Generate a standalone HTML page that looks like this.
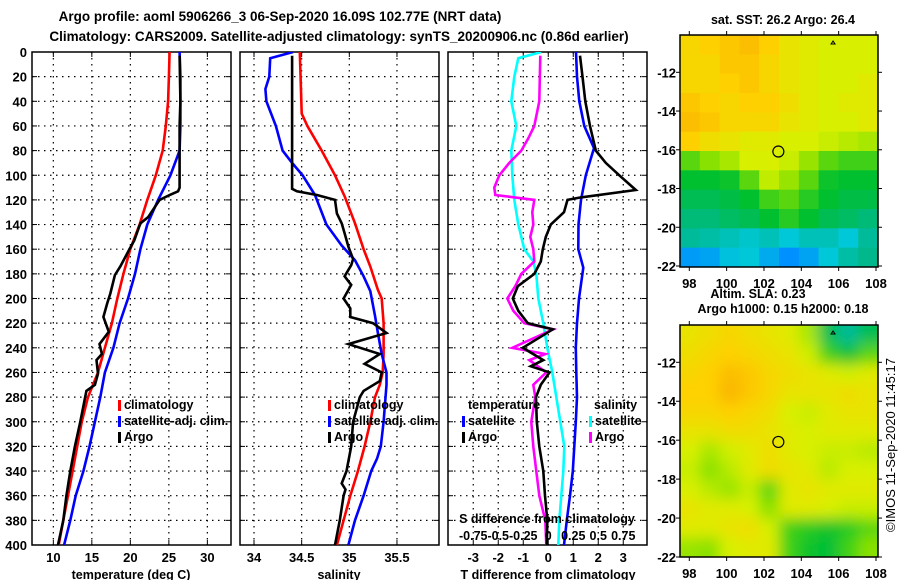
<!DOCTYPE html>
<html><head><meta charset="utf-8"><style>
html,body{margin:0;padding:0;background:#fff;}
svg{display:block;font-family:"Liberation Sans",Arial,sans-serif;font-weight:bold;}
</style></head><body>
<svg id="c" width="900" height="580" viewBox="0 0 900 580" xmlns="http://www.w3.org/2000/svg">
<defs>
<clipPath id="clipTop"><rect x="680" y="35" width="198" height="232"/></clipPath>
<clipPath id="clipBot"><rect x="680" y="325" width="198" height="232"/></clipPath>
<clipPath id="clipP1"><rect x="32" y="52" width="199" height="493"/></clipPath>
<clipPath id="clipP2"><rect x="240" y="52" width="199" height="493"/></clipPath>
<clipPath id="clipP3"><rect x="448" y="52" width="199" height="493"/></clipPath>
<filter id="blur" x="-10%" y="-10%" width="120%" height="120%"><feGaussianBlur stdDeviation="7"/></filter>
</defs>
<text x="280" y="21" text-anchor="middle" font-size="13.5">Argo profile: aoml 5906266_3 06-Sep-2020 16.09S 102.77E (NRT data)</text>
<text x="339" y="41" text-anchor="middle" font-size="13.5">Climatology: CARS2009. Satellite-adjusted climatology: synTS_20200906.nc (0.86d earlier)</text>
<g id="layer"></g>
</svg>
<script>
// ---------- Depth axis ----------
const depthTicks = [0,20,40,60,80,100,120,140,160,180,200,220,240,260,280,300,320,340,360,380,400];

// ---------- Panel 1: temperature ----------
const tempTicks = [10,15,20,25,30];
const tClimDepth = [0,20,40,60,80,100,120,140,160,180,200,220,240,260,280,300,320,340,360,380,400];
const tClim = [25.1,25.0,24.9,24.6,24.2,23.3,22.2,21.2,20.0,19.1,18.3,17.6,16.7,15.8,14.5,13.7,13.1,12.5,11.9,11.3,10.7];
const tSatDepth = [0,20,40,60,80,100,120,140,160,180,200,220,240,260,280,300,320,340,360,380,400];
const tSatClim = [26.4,26.5,26.5,26.5,26.4,25.2,23.6,22.2,21.3,20.6,19.7,18.6,17.8,16.7,16.1,15.4,14.7,13.9,12.9,12.2,11.4];
const tArgoDepth = [3,40,60,110,113,116,120,134,139,153,161,174,181,196,204,215,227,237,245,250,261,270,275,300,320,340,360,380,400];
const tArgo = [26.4,26.5,26.4,26.4,26.2,25.1,23.8,22.3,21.3,20.5,19.8,18.7,18.0,17.4,17.0,16.5,17.2,16.0,16.3,15.6,15.8,15.4,14.3,13.5,12.8,12.2,11.7,11.3,10.6];

// ---------- Panel 2: salinity ----------
const salTicks = [34,34.5,35,35.5];
const salTickLabels = ["34","34.5","35","35.5"];
const sClimDepth = [0,50,60,80,100,117,139,160,174,193,200,220,245,260,270,280,300,320,340,360,380,400];
const sClim = [34.48,34.50,34.56,34.71,34.85,34.95,35.06,35.15,35.22,35.30,35.34,35.36,35.36,35.35,35.32,35.27,35.22,35.16,35.09,35.01,34.94,34.87];
const sSatDepth = [0,5,20,30,40,60,80,90,100,116,140,157,169,182,194,214,228,245,260,270,300,320,330,340,360,380,400];
const sSatClim = [34.41,34.17,34.16,34.12,34.13,34.23,34.30,34.40,34.51,34.64,34.76,34.92,35.06,35.15,35.22,35.27,35.30,35.34,35.39,35.39,35.36,35.33,35.29,35.23,35.15,35.06,34.99];
const sArgoDepth = [3,111,113,116,120,131,139,147,158,168,173,182,189,200,208,215,220,228,237,245,253,260,267,275,280,300,320,340,350,355,360,380,400];
const sArgo = [34.40,34.40,34.45,34.66,34.85,34.87,34.92,34.95,34.99,35.04,35.02,34.95,35.02,34.94,35.01,35.01,35.25,35.39,34.99,35.32,35.16,35.34,35.32,35.15,35.11,35.04,35.02,34.97,34.92,34.96,34.94,34.90,34.85];

// ---------- Panel 3: differences ----------
const dTTicks = [-3,-2,-1,0,1,2,3];
const dSTicks = [-0.75,-0.5,-0.25,0,0.25,0.5,0.75];
const dSTickLabels = ["-0.75","-0.5","-0.25","0","0.25","0.5","0.75"];
const dTSatDepth = [0,20,40,60,78,100,120,140,160,175,200,220,240,260,280,300,320,340,360,380,400];
const dTSat = [1.11,1.15,1.24,1.44,1.83,1.5,1.31,1.21,1.2,1.4,1.23,1.15,1.1,1.12,1.15,1.1,1.04,0.98,0.87,0.74,0.63];
const dTArgoDepth = [3,20,40,60,80,90,100,112,118,120,130,140,150,160,170,180,190,200,210,220,225,240,250,255,260,270,280,300,320,340,360,380,400];
const dTArgo = [1.27,1.37,1.48,1.67,1.9,2.3,2.84,3.5,1.3,0.77,0.63,0.1,-0.1,-0.22,-0.3,-0.56,-1.22,-1.42,-1.2,-0.82,0.18,-1.02,-0.2,-0.7,0.05,-0.3,-0.49,-0.46,-0.36,-0.2,-0.13,-0.04,-0.06];
const dSSatDepth = [0,5,20,40,60,80,100,120,140,160,170,180,200,220,240,260,280,300,320,340,360,380,400];
const dSSat = [-0.07,-0.30,-0.34,-0.37,-0.32,-0.37,-0.36,-0.34,-0.30,-0.24,-0.15,-0.12,-0.10,-0.05,-0.01,0.04,0.08,0.12,0.16,0.15,0.13,0.11,0.10];
const dSArgoDepth = [3,40,60,70,80,90,100,110,116,120,130,140,150,160,170,180,190,200,210,220,225,240,245,250,260,270,280,300,320,340,360,380,400];
const dSArgo = [-0.08,-0.09,-0.14,-0.20,-0.27,-0.39,-0.49,-0.54,-0.53,-0.14,-0.16,-0.15,-0.18,-0.15,-0.14,-0.27,-0.33,-0.41,-0.35,-0.24,0.05,-0.36,-0.03,-0.19,-0.02,-0.15,-0.13,-0.17,-0.15,-0.12,-0.09,-0.03,-0.02];

// ---------- Maps ----------
const lonTicks = [98,100,102,104,106,108];
const latTicks = [-12,-14,-16,-18,-20,-22];
const argoLon = 102.77, argoLat = -16.09;
const sstGrid = [
[0.84,0.86,0.88,0.90,0.86,0.80,0.78,0.76,0.76,0.76],
[0.84,0.84,0.88,0.88,0.84,0.80,0.78,0.76,0.76,0.76],
[0.84,0.84,0.86,0.88,0.84,0.80,0.78,0.76,0.76,0.78],
[0.88,0.86,0.84,0.86,0.86,0.82,0.78,0.76,0.78,0.78],
[0.90,0.88,0.84,0.84,0.84,0.80,0.78,0.76,0.76,0.78],
[0.86,0.82,0.80,0.78,0.78,0.76,0.76,0.74,0.72,0.70],
[0.62,0.66,0.70,0.76,0.76,0.74,0.68,0.62,0.60,0.60],
[0.55,0.55,0.56,0.62,0.73,0.68,0.62,0.56,0.55,0.55],
[0.50,0.50,0.52,0.55,0.60,0.62,0.58,0.55,0.52,0.52],
[0.45,0.45,0.48,0.50,0.55,0.58,0.55,0.50,0.48,0.45],
[0.40,0.38,0.35,0.32,0.35,0.30,0.35,0.35,0.30,0.40],
[0.18,0.20,0.28,0.30,0.22,0.15,0.20,0.30,0.38,0.42]];
const slaGrid = [
[0.80,0.82,0.84,0.82,0.80,0.78,0.70,0.50,0.40,0.50],
[0.82,0.84,0.86,0.84,0.82,0.80,0.75,0.60,0.55,0.62],
[0.84,0.86,0.90,0.88,0.84,0.82,0.80,0.78,0.75,0.78],
[0.86,0.86,0.92,0.88,0.84,0.80,0.80,0.80,0.82,0.80],
[0.84,0.84,0.86,0.84,0.82,0.76,0.74,0.78,0.80,0.80],
[0.80,0.80,0.82,0.82,0.80,0.78,0.76,0.78,0.78,0.78],
[0.76,0.70,0.75,0.78,0.82,0.78,0.76,0.74,0.74,0.72],
[0.74,0.66,0.72,0.78,0.82,0.80,0.78,0.72,0.76,0.76],
[0.76,0.72,0.68,0.74,0.62,0.78,0.80,0.78,0.78,0.78],
[0.80,0.78,0.78,0.76,0.66,0.78,0.78,0.76,0.74,0.74],
[0.78,0.78,0.80,0.82,0.76,0.60,0.58,0.56,0.58,0.62],
[0.68,0.66,0.76,0.78,0.78,0.60,0.56,0.54,0.60,0.66]];

const NS = "http://www.w3.org/2000/svg";
const layer = document.getElementById('layer');
function mk(tag, attrs, parent){const e=document.createElementNS(NS,tag);for(const k in attrs)e.setAttribute(k,attrs[k]);(parent||layer).appendChild(e);return e;}
function txt(x,y,s,anchor,size,parent){const t=mk('text',{x:x,y:y,'text-anchor':anchor||'middle','font-size':size||13},parent);t.textContent=s;return t;}

const Y0=52, Y1=545;
function yD(d){return Y0+(d/400)*(Y1-Y0);}

function panel(name,x0,x1,dmin,dmax,gridVals,clip){
  const g=mk('g',{});
  
  
  const xs=v=>x0+(v-dmin)/(dmax-dmin)*(x1-x0);
  depthTicks.forEach(d=>{ if(d>0&&d<400){
    const l=mk('line',{x1:x0,x2:x1,y1:yD(d),y2:yD(d),stroke:'#000','stroke-width':1.2,'stroke-dasharray':'1.5,4.5'},g);
     
    mk('line',{x1:x0,x2:x0+5,y1:yD(d),y2:yD(d),stroke:'#000','stroke-width':1},g);
    mk('line',{x1:x1-5,x2:x1,y1:yD(d),y2:yD(d),stroke:'#000','stroke-width':1},g);
  }});
  gridVals.forEach(v=>{
    const l=mk('line',{x1:xs(v),x2:xs(v),y1:Y0,y2:Y1,stroke:'#000','stroke-width':1.2,'stroke-dasharray':'1.5,4.5'},g);
     
    mk('line',{x1:xs(v),x2:xs(v),y1:Y0,y2:Y0+5,stroke:'#000','stroke-width':1},g);
    mk('line',{x1:xs(v),x2:xs(v),y1:Y1-5,y2:Y1,stroke:'#000','stroke-width':1},g);
  });
  const f=mk('rect',{x:x0,y:Y0,width:x1-x0,height:Y1-Y0,fill:'none',stroke:'#000','stroke-width':1.5},g);
   
  const sg=mk('g',{'clip-path':'url(#'+clip+')'},g);
  return {g:g,xs:xs,sg:sg};
}
function series(p,depths,vals,color,name,scale){
  const pts=depths.map((d,i)=>p.xs(vals[i]*(scale||1)).toFixed(1)+','+yD(d).toFixed(1)).join(' ');
  const l=mk('polyline',{points:pts,fill:'none',stroke:color,'stroke-width':2.6,'stroke-linejoin':'miter'},p.sg);
  
  
}
function legendEntry(x,y,color,label,parent){
  const r=mk('rect',{x:x,y:y-9,width:3,height:11,fill:color},parent);
   
  const t=txt(x+6,y,label,'start',12.5,parent);
   
}

// depth axis labels
depthTicks.forEach(d=>{const t=txt(27,yD(d)+5,String(d),'end',13);
   });

// Panel 1
const p1=panel('temperature-panel',32,231,7.23,33.07,tempTicks,'clipP1');
series(p1,tClimDepth,tClim,'#ff0000','temp-climatology-line');
series(p1,tSatDepth,tSatClim,'#0000ff','temp-satellite-line');
series(p1,tArgoDepth,tArgo,'#000000','temp-argo-line');
tempTicks.forEach(v=>{const t=txt(p1.xs(v),562,String(v),'middle',13);});
{const t=txt(131,579,'temperature (deg C)','middle',12.5);}
const lg1=mk('g',{});  
legendEntry(118,409,'#ff0000','climatology',lg1);
legendEntry(118,425,'#0000ff','satellite-adj. clim.',lg1);
legendEntry(118,441,'#000000','Argo',lg1);

// Panel 2
const p2=panel('salinity-panel',240,439,33.853,35.941,salTicks,'clipP2');
series(p2,sClimDepth,sClim,'#ff0000','sal-climatology-line');
series(p2,sSatDepth,sSatClim,'#0000ff','sal-satellite-line');
series(p2,sArgoDepth,sArgo,'#000000','sal-argo-line');
salTicks.forEach((v,i)=>{const t=txt(p2.xs(v),562,salTickLabels[i],'middle',13);});
{const t=txt(339,579,'salinity','middle',12.5);}
const lg2=mk('g',{});  
legendEntry(328,409,'#ff0000','climatology',lg2);
legendEntry(328,425,'#0000ff','satellite-adj. clim.',lg2);
legendEntry(328,441,'#000000','Argo',lg2);

// Panel 3 (T axis -4..4, S axis -1..1 -> scale 4)
const p3=panel('difference-panel',448,647,-4.01,3.95,dTTicks,'clipP3');
series(p3,dSSatDepth,dSSat,'#00ffff','sal-diff-satellite-line',4);
series(p3,dSArgoDepth,dSArgo,'#ff00ff','sal-diff-argo-line',4);
series(p3,dTSatDepth,dTSat,'#0000ff','temp-diff-satellite-line');
series(p3,dTArgoDepth,dTArgo,'#000000','temp-diff-argo-line');
dTTicks.forEach(v=>{const t=txt(p3.xs(v),562,String(v),'middle',13);});
{const t=txt(548,579,'T difference from climatology','middle',12.5);}
{const t=txt(547,523,'S difference from climatology','middle',12.5);}
dSTicks.forEach((v,i)=>{const t=txt(p3.xs(v*4),540,dSTickLabels[i],'middle',12.5);});
const lg3=mk('g',{});  
{const t=txt(468,409,'temperature','start',12.5,lg3);}
{const t=txt(594,409,'salinity','start',12.5,lg3);}
legendEntry(462,425,'#0000ff','satellite',lg3);
legendEntry(462,441,'#000000','Argo',lg3);
legendEntry(589,425,'#00ffff','satellite',lg3);
legendEntry(589,441,'#ff00ff','Argo',lg3);

// ---------- Maps ----------
const stops=[[0,[0,64,255]],[0.15,[0,144,255]],[0.3,[0,200,216]],[0.42,[0,184,140]],[0.55,[0,192,48]],[0.65,[128,224,0]],[0.76,[216,240,0]],[0.86,[255,208,0]],[1,[240,144,0]]];
function cmap(v){for(let i=1;i<stops.length;i++){if(v<=stops[i][0]){const a=stops[i-1],b=stops[i],t=(v-a[0])/(b[0]-a[0]);const c=a[1].map((x,k)=>Math.round(x+(b[1][k]-x)*t));return 'rgb('+c.join(',')+')';}}return 'rgb(240,144,0)';}
function map(name,top,grid,clip,blur){
  const g=mk('g',{});  
  const x0=680,x1=878,y0=top,y1=top+232;
  const lx=lon=>689.3+(lon-98)*18.67;
  const ly=lat=>(top+37.3)+(-12-lat)*(top===35?19.37:19.47);
  const cg=mk('g',{'clip-path':'url(#'+clip+')'},g);
  const hg=mk('g',blur?{filter:'url(#blur)'}:{},cg);
  const rows=grid.length, cols=grid[0].length;
  const cw=(x1-x0)/cols, ch=(y1-y0)/rows;
  const pad=blur?14:0;
  grid.forEach((row,r)=>row.forEach((v,c)=>{
    const ex=c===0?-pad:0, ew=(c===0||c===cols-1)?pad:0, ey=r===0?-pad:0, eh=(r===0||r===rows-1)?pad:0;
    const cell=mk('rect',{x:x0+c*cw+ex,y:y0+r*ch+ey,width:cw+ew+0.6,height:ch+eh+0.6,fill:cmap(v)},hg);
    
    
  }));
  const fr=mk('rect',{x:x0,y:y0,width:x1-x0,height:y1-y0,fill:'none',stroke:'#000','stroke-width':1.5},g);
   
  const m=mk('circle',{cx:lx(argoLon),cy:ly(argoLat),r:5.5,fill:'none',stroke:'#000','stroke-width':1.2},g);
   
  mk('path',{d:'M'+(lx(105.7)-2)+','+(y0+9)+' l2,-3 l2,3 z',fill:'none',stroke:'#000','stroke-width':1},g);
  lonTicks.forEach(lon=>{
    mk('line',{x1:lx(lon),x2:lx(lon),y1:y0-4,y2:y0,stroke:'#000'},g);
    mk('line',{x1:lx(lon),x2:lx(lon),y1:y1,y2:y1+4,stroke:'#000'},g);
    const t=txt(lx(lon),y1+21,String(lon),'middle',13,g);
     
  });
  latTicks.forEach(lat=>{
    mk('line',{x1:x0-4,x2:x0,y1:ly(lat),y2:ly(lat),stroke:'#000'},g);
    mk('line',{x1:x1,x2:x1+4,y1:ly(lat),y2:ly(lat),stroke:'#000'},g);
    const t=txt(676,ly(lat)+5,String(lat),'end',13,g);
     
  });
  return g;
}
map('sst-map',35,sstGrid,'clipTop',false);
map('sla-map',325,slaGrid,'clipBot',true);
{const t=txt(783,24,'sat. SST: 26.2 Argo: 26.4','middle',12.5);}
{const t=txt(758,298,'Altim. SLA: 0.23','middle',12.5);}
{const t=txt(783,313,'Argo h1000: 0.15 h2000: 0.18','middle',12.5);}
{const t=mk('text',{x:0,y:0,transform:'translate(895,445) rotate(-90)','text-anchor':'middle','font-size':13,'font-weight':'normal'});
 t.textContent='©IMOS 11-Sep-2020 11:45:17';
  }
</script>
</body></html>
